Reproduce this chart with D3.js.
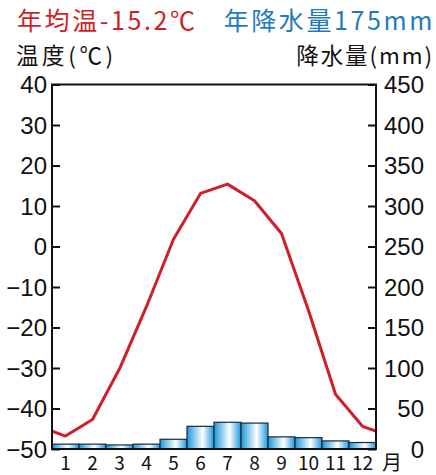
<!DOCTYPE html>
<html>
<head>
<meta charset="utf-8">
<script src="https://cdn.jsdelivr.net/npm/d3@7"></script>
<style>
  body { margin: 0; background: #fff; }
  svg text { font-family: "Noto Sans CJK JP", "Noto Sans", sans-serif; }
  svg .tick text { font-family: "Liberation Sans", "Noto Sans", sans-serif; }
</style>
</head>
<body>
<div id="chart"></div>
<script>
// monthly climate data
const months = ["1", "2", "3", "4", "5", "6", "7", "8", "9", "10", "11", "12"];
const temperature = [-46.8, -42.7, -30.2, -14.8, 1.8, 13.1, 15.4, 11.3, 3.2, -15.8, -36.5, -44.4];
const precipitation = [6, 6, 5, 6, 12, 28, 33, 32, 15, 14, 10, 8];
const tempTicks = [-50, -40, -30, -20, -10, 0, 10, 20, 30, 40];
const precTicks = [0, 50, 100, 150, 200, 250, 300, 350, 400, 450];

const W = 436, H = 475;
const margin = { top: 84.5, left: 52 };
const innerW = 376 - margin.left;
const innerH = 449 - margin.top;

const svg = d3.select("#chart")
  .append("svg")
  .attr("width", W)
  .attr("height", H);

// bar gradient: blue -> white highlight -> blue
const defs = svg.append("defs");
const grad = defs.append("linearGradient")
  .attr("id", "barGrad")
  .attr("x1", "0%").attr("x2", "100%").attr("y1", "0%").attr("y2", "0%");
grad.append("stop").attr("offset", "0%").attr("stop-color", "#1c98da");
grad.append("stop").attr("offset", "58%").attr("stop-color", "#ffffff");
grad.append("stop").attr("offset", "100%").attr("stop-color", "#1c98da");

defs.append("clipPath")
  .attr("id", "plotClip")
  .append("rect")
  .attr("width", innerW)
  .attr("height", innerH);

const g = svg.append("g")
  .attr("transform", `translate(${margin.left},${margin.top})`);

const x = d3.scaleBand()
  .domain(months)
  .range([0, innerW])
  .padding(0);

const yT = d3.scaleLinear().domain([-50, 40]).range([innerH, 0]);
const yP = d3.scaleLinear().domain([0, 450]).range([innerH, 0]);

// precipitation bars
g.selectAll(".bar")
  .data(precipitation)
  .enter()
  .append("rect")
  .attr("class", "bar")
  .attr("x", (d, i) => x(months[i]))
  .attr("y", d => yP(d))
  .attr("width", x.bandwidth())
  .attr("height", d => innerH - yP(d))
  .attr("fill", "url(#barGrad)")
  .attr("stroke", "#1b2b3a")
  .attr("stroke-width", 1.2);

// temperature line, wrapped Dec -> Jan at the edges
const step = x.bandwidth();
const cx = i => x(months[0]) + step / 2 + i * step;
const linePts = [[-1, temperature[11]]]
  .concat(temperature.map((t, i) => [i, t]))
  .concat([[12, temperature[0]]]);

const line = d3.line()
  .x(d => cx(d[0]))
  .y(d => yT(d[1]));

g.append("path")
  .datum(linePts)
  .attr("clip-path", "url(#plotClip)")
  .attr("d", line)
  .attr("fill", "none")
  .attr("stroke", "#d01f28")
  .attr("stroke-width", 3)
  .attr("stroke-linejoin", "round");

// frame
g.append("rect")
  .attr("width", innerW)
  .attr("height", innerH)
  .attr("fill", "none")
  .attr("stroke", "#111")
  .attr("stroke-width", 2);

// left axis (ticks inward)
const leftAxis = g.append("g")
  .call(d3.axisLeft(yT).tickValues(tempTicks).tickSizeInner(-8).tickSizeOuter(0).tickPadding(5)
    .tickFormat(d => d < 0 ? "−" + Math.abs(d) : d));
leftAxis.select(".domain").remove();
leftAxis.selectAll("line").attr("stroke", "#111").attr("stroke-width", 2);
leftAxis.selectAll("text")
  .attr("fill", "#111")
  .style("font-size", "24px")
  .attr("dy", "0.35em");

// right axis (ticks inward)
const rightAxis = g.append("g")
  .attr("transform", `translate(${innerW},0)`)
  .call(d3.axisRight(yP).tickValues(precTicks).tickSizeInner(-8).tickSizeOuter(0).tickPadding(14));
rightAxis.select(".domain").remove();
rightAxis.selectAll("line").attr("stroke", "#111").attr("stroke-width", 2);
rightAxis.selectAll("text")
  .attr("fill", "#111")
  .style("font-size", "24px")
  .attr("text-anchor", "end")
  .attr("x", 48)
  .attr("dy", "0.35em");

// month labels
g.selectAll(".month")
  .data(months)
  .enter()
  .append("text")
  .attr("class", "month")
  .attr("x", d => x(d) + x.bandwidth() / 2)
  .attr("y", innerH + 21)
  .attr("text-anchor", "middle")
  .attr("fill", "#111")
  .style("font-size", "19px")
  .text(d => d);

svg.append("text")
  .attr("x", 392)
  .attr("y", 470)
  .attr("text-anchor", "middle")
  .attr("fill", "#111")
  .style("font-size", "20px")
  .text("月");

// axis titles
svg.append("text")
  .attr("x", 16)
  .attr("y", 64)
  .attr("fill", "#111")
  .style("font-size", "22.5px")
  .style("letter-spacing", "3.6px")
  .text("温度(℃)");

svg.append("text")
  .attr("x", 434)
  .attr("y", 64)
  .attr("text-anchor", "end")
  .attr("fill", "#111")
  .style("font-size", "22.5px")
  .style("letter-spacing", "1.9px")
  .text("降水量(mm)");

// titles
svg.append("text")
  .attr("x", 17)
  .attr("y", 30)
  .attr("fill", "#d01f28")
  .style("font-size", "25px")
  .style("letter-spacing", "2.6px")
  .text("年均温-15.2℃");

svg.append("text")
  .attr("x", 435)
  .attr("y", 30)
  .attr("text-anchor", "end")
  .attr("fill", "#1f7bbd")
  .style("font-size", "25px")
  .style("letter-spacing", "2.6px")
  .text("年降水量175mm");
</script>
</body>
</html>
